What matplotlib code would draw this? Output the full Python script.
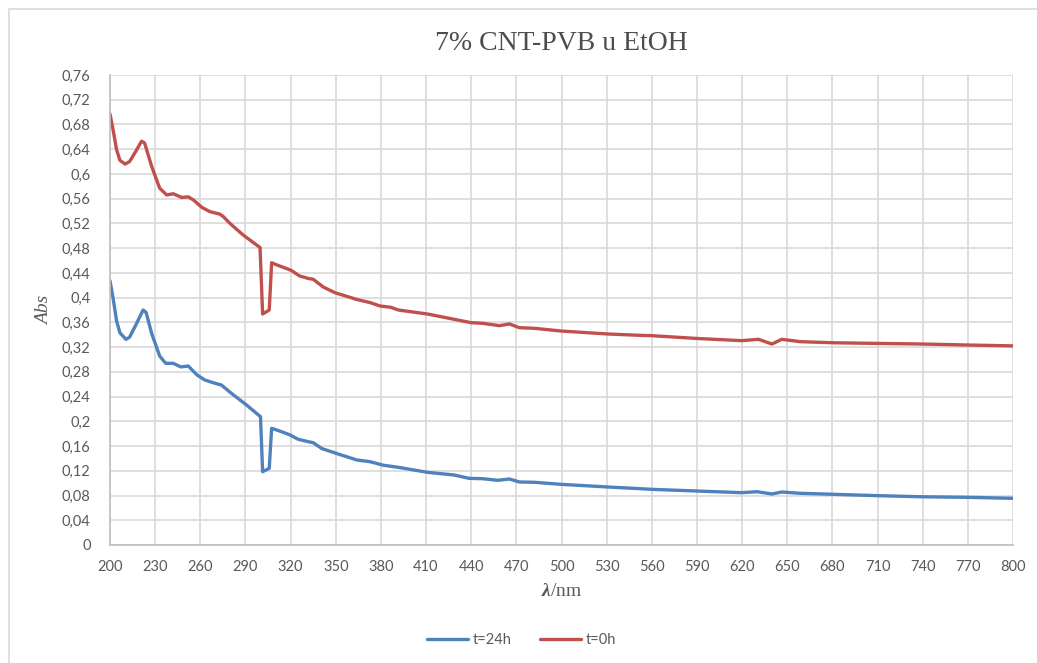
import matplotlib.pyplot as plt
import matplotlib.patches as patches
from matplotlib.ticker import FixedLocator, MultipleLocator, FuncFormatter

#%% data
wl_0h = [200, 202, 204.4, 206.6, 210, 213, 217, 221, 223, 227.7, 233, 237.7, 242, 247.6,
         252, 255.4, 261, 266.4, 273, 275.3, 279.7, 288.6, 299.7, 301.4, 305.8, 307.4,
         310.7, 318.5, 320.7, 326, 331.8, 335, 341.8, 349.5, 364, 372.8, 379.4, 386.7,
         391.6, 411, 428.6, 439.9, 447.6, 458.7, 465.4, 472, 482, 499.7, 530.8, 552.8,
         560, 589.9, 619.8, 630.9, 639.8, 646.4, 658.6, 680.7, 709.5, 739.4, 769.3, 800]
abs_0h = [0.697, 0.672, 0.639, 0.622, 0.616, 0.620, 0.636, 0.653, 0.650, 0.612, 0.577, 0.566,
          0.568, 0.562, 0.563, 0.558, 0.546, 0.539, 0.535, 0.531, 0.520, 0.501, 0.481, 0.3735,
          0.380, 0.4565, 0.453, 0.446, 0.4436, 0.435, 0.431, 0.4297, 0.417, 0.408, 0.397,
          0.392, 0.3865, 0.3843, 0.380, 0.3735, 0.365, 0.3595, 0.3585, 0.3547, 0.3574, 0.3514,
          0.3504, 0.346, 0.3412, 0.339, 0.3385, 0.334, 0.3304, 0.3326, 0.325, 0.3326, 0.3288,
          0.327, 0.326, 0.325, 0.3234, 0.322]

wl_24h = [200, 202, 204.4, 206.6, 210.6, 213, 217, 222, 224, 227.7, 233, 237, 242, 247,
          252, 257.8, 263, 269.8, 274, 280.8, 290.7, 300, 301.4, 305.8, 307.4, 314, 319.6,
          325, 331.8, 335, 340.7, 351.8, 364, 372.8, 381.6, 391.6, 411, 428.6, 438.6, 447.6,
          457.6, 465.4, 472, 482, 499.7, 530.8, 552.8, 560, 589.9, 619.8, 629.8, 639.8,
          646.4, 658.6, 680.7, 709.5, 739.4, 769.3, 800]
abs_24h = [0.4274, 0.400, 0.362, 0.343, 0.3326, 0.336, 0.355, 0.380, 0.376, 0.342, 0.3056,
           0.2938, 0.2938, 0.288, 0.2894, 0.275, 0.2668, 0.2615, 0.2587, 0.245, 0.2264, 0.2075,
           0.1185, 0.124, 0.1887, 0.1832, 0.178, 0.171, 0.167, 0.1654, 0.156, 0.147, 0.1375,
           0.1347, 0.129, 0.1256, 0.1175, 0.1132, 0.1078, 0.1072, 0.1046, 0.1067, 0.1019,
           0.1014, 0.0981, 0.0938, 0.091, 0.090, 0.0873, 0.0846, 0.0862, 0.0825, 0.0857,
           0.0836, 0.082, 0.0798, 0.078, 0.0771, 0.0755]

x_ticks = list(range(200, 801, 30))

#%% fonts
plt.rcParams['mathtext.fontset'] = 'custom'
plt.rcParams['mathtext.rm'] = 'Liberation Serif'
plt.rcParams['mathtext.bfit'] = 'Liberation Serif:italic:bold'

grey = '#595959'
grid_col = '#d9d9d9'

fig = plt.figure(figsize=(10.37, 6.63), dpi=100)
ax = fig.add_axes([110/1037, 1-545/663, 903/1037, 470/663])

ax.plot(wl_24h, abs_24h, color='#4F81BD', lw=2.4, label='t=24h',
        solid_capstyle='round', solid_joinstyle='round')
ax.plot(wl_0h, abs_0h, color='#C0504D', lw=2.4, label='t=0h',
        solid_capstyle='round', solid_joinstyle='round')

ax.set_xlim(200, 800)
ax.set_ylim(0, 0.76)
ax.xaxis.set_major_locator(FixedLocator(x_ticks))
ax.yaxis.set_major_locator(MultipleLocator(0.04))

def comma(v, pos):
    s = f"{v:.2f}".rstrip('0').rstrip('.')
    return s.replace('.', ',')

ax.yaxis.set_major_formatter(FuncFormatter(comma))
ax.grid(True, color=grid_col, lw=1.2)
ax.set_axisbelow(True)
for side in ['top', 'right']:
    ax.spines[side].set_visible(False)
for side in ['left', 'bottom']:
    ax.spines[side].set_color('#bfbfbf')
    ax.spines[side].set_linewidth(1.2)
ax.tick_params(length=0, labelcolor=grey, labelsize=10.5)
ax.tick_params(axis='y', pad=14)
ax.tick_params(axis='x', pad=11)
for lab in ax.get_xticklabels() + ax.get_yticklabels():
    lab.set_family('Lato')

ax.set_title('7% CNT-PVB u EtOH', family='Liberation Serif', fontsize=20, color='#4d4d4d', pad=18)
ax.set_ylabel('Abs', family='Liberation Serif', style='italic', fontsize=14, color=grey, labelpad=6)
ax.set_xlabel(r'$\mathbfit{\lambda}$/nm', family='Liberation Serif', fontsize=14, color=grey, labelpad=6)

fig.legend(loc='center', bbox_to_anchor=(0.503, 0.035), ncol=2, frameon=False,
           prop={'family': 'Lato', 'size': 10.5}, labelcolor=grey,
           handlelength=2.8, columnspacing=2.0, handletextpad=0.3)

# chart area border
fig.add_artist(patches.Rectangle((9/1037, -0.1), 1.2, 1.1 - 9/663, fill=False,
                                 edgecolor=grid_col, lw=1.2, transform=fig.transFigure))

fig.savefig('out.png', dpi=100)
